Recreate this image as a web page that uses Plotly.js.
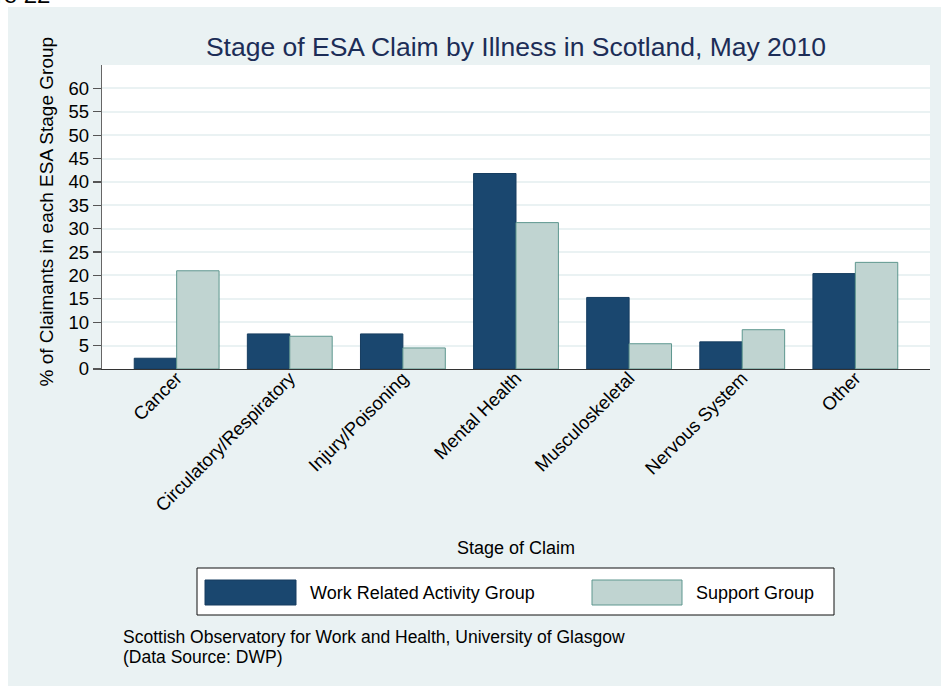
<!DOCTYPE html>
<html>
<head>
<meta charset="utf-8">
<script src="https://cdn.plot.ly/plotly-3.0.1.min.js"></script>
<style>html,body{margin:0;padding:0;background:#fff;}#chart{width:941px;height:686px;}</style>
</head>
<body>
<div id="chart"></div>
<script>
// ---- data ----
const categories = ["Cancer", "Circulatory/Respiratory", "Injury/Poisoning", "Mental Health", "Musculoskeletal", "Nervous System", "Other"];
const wragValues = [2.3, 7.5, 7.5, 41.8, 15.3, 5.8, 20.4];
const supportValues = [21.0, 7.0, 4.5, 31.3, 5.4, 8.4, 22.8];
const seriesNames = ["Work Related Activity Group", "Support Group"];
const yTickValues = [0, 5, 10, 15, 20, 25, 30, 35, 40, 45, 50, 55, 60];
const chartTitle = "Stage of ESA Claim by Illness in Scotland, May 2010";
const xTitle = "Stage of Claim";
const yTitle = "% of Claimants in each ESA Stage Group";
const noteLines = ["Scottish Observatory for Work and Health, University of Glasgow", "(Data Source: DWP)"];
const pageHeading = "Figure 22";

// ---- layout geometry (pixels) ----
const W = 941, H = 686;
const PL = 102, PR = 930, PT = 65, PB = 369;
const px = x => (x - PL) / (PR - PL);
const py = y => (PB - y) / (PB - PT);

const FONT = "Liberation Sans, Arial, Helvetica, sans-serif";
const BG = "#EAF2F3";
const NAVY = "#1A476F";
const LIGHT = "#C0D4D1";
const LIGHT_LINE = "#5E978F";

const traces = [
  {type: "bar", name: seriesNames[0], x: categories, y: wragValues,
   marker: {color: NAVY, line: {color: "#163D60", width: 1}}, showlegend: false, hoverinfo: "x+y"},
  {type: "bar", name: seriesNames[1], x: categories, y: supportValues,
   marker: {color: LIGHT, line: {color: LIGHT_LINE, width: 1}}, showlegend: false, hoverinfo: "x+y"}
];

const shapes = [
  // white margin strips outside the graph region
  {type: "rect", xref: "paper", yref: "paper", x0: px(-20), x1: px(W + 20), y0: py(7), y1: py(-20), fillcolor: "#ffffff", line: {width: 0}, layer: "below"},
  {type: "rect", xref: "paper", yref: "paper", x0: px(-20), x1: px(8), y0: py(H + 20), y1: py(-20), fillcolor: "#ffffff", line: {width: 0}, layer: "below"},
  // legend box
  {type: "rect", xref: "paper", yref: "paper", x0: px(197), x1: px(834), y0: py(615), y1: py(568), fillcolor: "#ffffff", line: {color: "#111111", width: 1}},
  {type: "rect", xref: "paper", yref: "paper", x0: px(205), x1: px(296), y0: py(605), y1: py(580), fillcolor: NAVY, line: {color: "#163D60", width: 1}},
  {type: "rect", xref: "paper", yref: "paper", x0: px(592), x1: px(682), y0: py(605), y1: py(580), fillcolor: LIGHT, line: {color: LIGHT_LINE, width: 1}}
];

const annotations = [
  {text: pageHeading, xref: "paper", yref: "paper", x: px(52), y: py(10), xanchor: "right", yanchor: "bottom", showarrow: false, font: {family: FONT, size: 24, color: "#000"}},
  {text: xTitle, xref: "paper", yref: "paper", x: px(516), y: py(548), xanchor: "center", yanchor: "middle", showarrow: false, font: {family: FONT, size: 18, color: "#000"}},
  {text: yTitle, xref: "paper", yref: "paper", x: px(46), y: py(211.5), xanchor: "center", yanchor: "middle", textangle: -90, showarrow: false, font: {family: FONT, size: 19, color: "#000"}},
  {text: seriesNames[0], xref: "paper", yref: "paper", x: px(308), y: py(592.5), xanchor: "left", yanchor: "middle", showarrow: false, font: {family: FONT, size: 18, color: "#000"}},
  {text: seriesNames[1], xref: "paper", yref: "paper", x: px(694), y: py(592.5), xanchor: "left", yanchor: "middle", showarrow: false, font: {family: FONT, size: 18, color: "#000"}},
  {text: noteLines[0], xref: "paper", yref: "paper", x: px(121), y: py(637), xanchor: "left", yanchor: "middle", showarrow: false, font: {family: FONT, size: 17.5, color: "#000"}},
  {text: noteLines[1], xref: "paper", yref: "paper", x: px(121), y: py(657), xanchor: "left", yanchor: "middle", showarrow: false, font: {family: FONT, size: 17.5, color: "#000"}}
];

const layout = {
  width: W, height: H,
  margin: {l: PL, r: W - PR, t: PT, b: H - PB, pad: 0},
  paper_bgcolor: BG,
  plot_bgcolor: "#ffffff",
  font: {family: FONT, size: 18, color: "#000"},
  title: {text: chartTitle, font: {family: FONT, size: 26.5, color: "#1C2D57"}, xref: "paper", x: 0.5, xanchor: "center", y: 1 - 47 / H, yanchor: "middle"},
  barmode: "group", bargap: 0.25, bargroupgap: 0,
  showlegend: false,
  xaxis: {
    type: "category", range: [-0.66, 6.66], tickangle: -45,
    showline: true, linecolor: "#333333", linewidth: 1.2, mirror: false,
    ticks: "", showgrid: false, zeroline: false, ticklabelstandoff: -10,
    tickfont: {family: FONT, size: 18.5, color: "#000"}, automargin: false
  },
  yaxis: {
    range: [0, 65], tickvals: yTickValues, ticktext: yTickValues.map(String),
    ticks: "outside", ticklen: 8, tickcolor: "#555555", tickwidth: 1.2,
    showline: true, linecolor: "#666666", linewidth: 1.2,
    showgrid: true, gridcolor: BG, gridwidth: 2, zeroline: false,
    tickfont: {family: FONT, size: 18.5, color: "#000"}, automargin: false
  },
  shapes: shapes,
  annotations: annotations
};

Plotly.newPlot("chart", traces, layout, {staticPlot: true, displayModeBar: false});
</script>
</body>
</html>
